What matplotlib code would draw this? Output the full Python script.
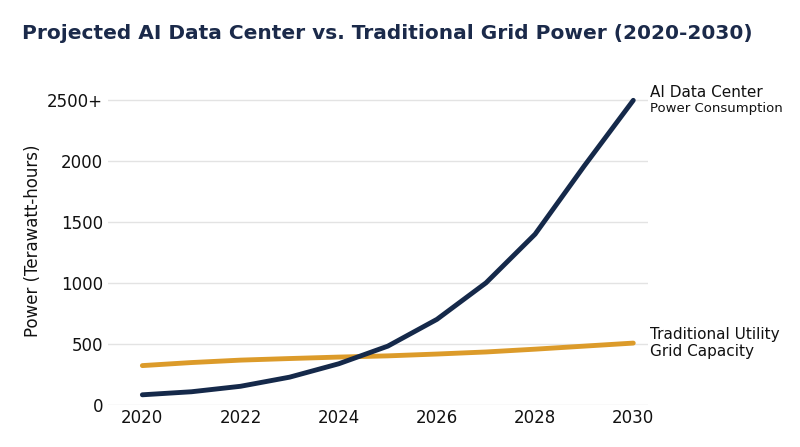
import matplotlib.pyplot as plt

years = [2020, 2021, 2022, 2023, 2024, 2025, 2026, 2027, 2028, 2029, 2030]
ai_power = [80, 105, 150, 225, 335, 480, 700, 1000, 1400, 1960, 2500]
grid_power = [320, 345, 365, 378, 390, 400, 415, 432, 455, 480, 505]
yticks = [0, 500, 1000, 1500, 2000, 2500]
ytick_labels = ['0', '500', '1000', '1500', '2000', '2500+']

navy = '#15294a'
gold = '#dc9b2a'

fig = plt.figure(figsize=(8, 4.47), dpi=100)
ax = fig.add_axes([0.135, 0.095, 0.675, 0.735])

ax.plot(years, grid_power, color=gold, lw=3.5, solid_capstyle='round')
ax.plot(years, ai_power, color=navy, lw=3.5, solid_capstyle='round')

ax.set_xlim(2019.3, 2030.3)
ax.set_ylim(0, 2700)
ax.set_xticks([2020, 2022, 2024, 2026, 2028, 2030])
ax.set_yticks(yticks)
ax.set_yticklabels(ytick_labels)
ax.tick_params(length=0, labelsize=12, colors='#111111')
ax.grid(axis='y', color='#e3e3e3', lw=1)
for s in ax.spines.values():
    s.set_visible(False)
ax.set_ylabel('Power (Terawatt-hours)', fontsize=12, color='#111111')

ax.text(2030.35, 2500, 'AI Data Center', fontsize=11, va='bottom', color='#111111')
ax.text(2030.35, 2490, 'Power Consumption', fontsize=9.5, va='top', color='#111111')
ax.text(2030.35, 505, 'Traditional Utility\nGrid Capacity', fontsize=11, va='center',
        color='#111111', linespacing=1.1)

fig.text(0.028, 0.925, 'Projected AI Data Center vs. Traditional Grid Power (2020-2030)',
         fontsize=14.5, fontweight='bold', color='#1b2a4a', va='center')

fig.savefig('out.png', dpi=100, facecolor='white')
